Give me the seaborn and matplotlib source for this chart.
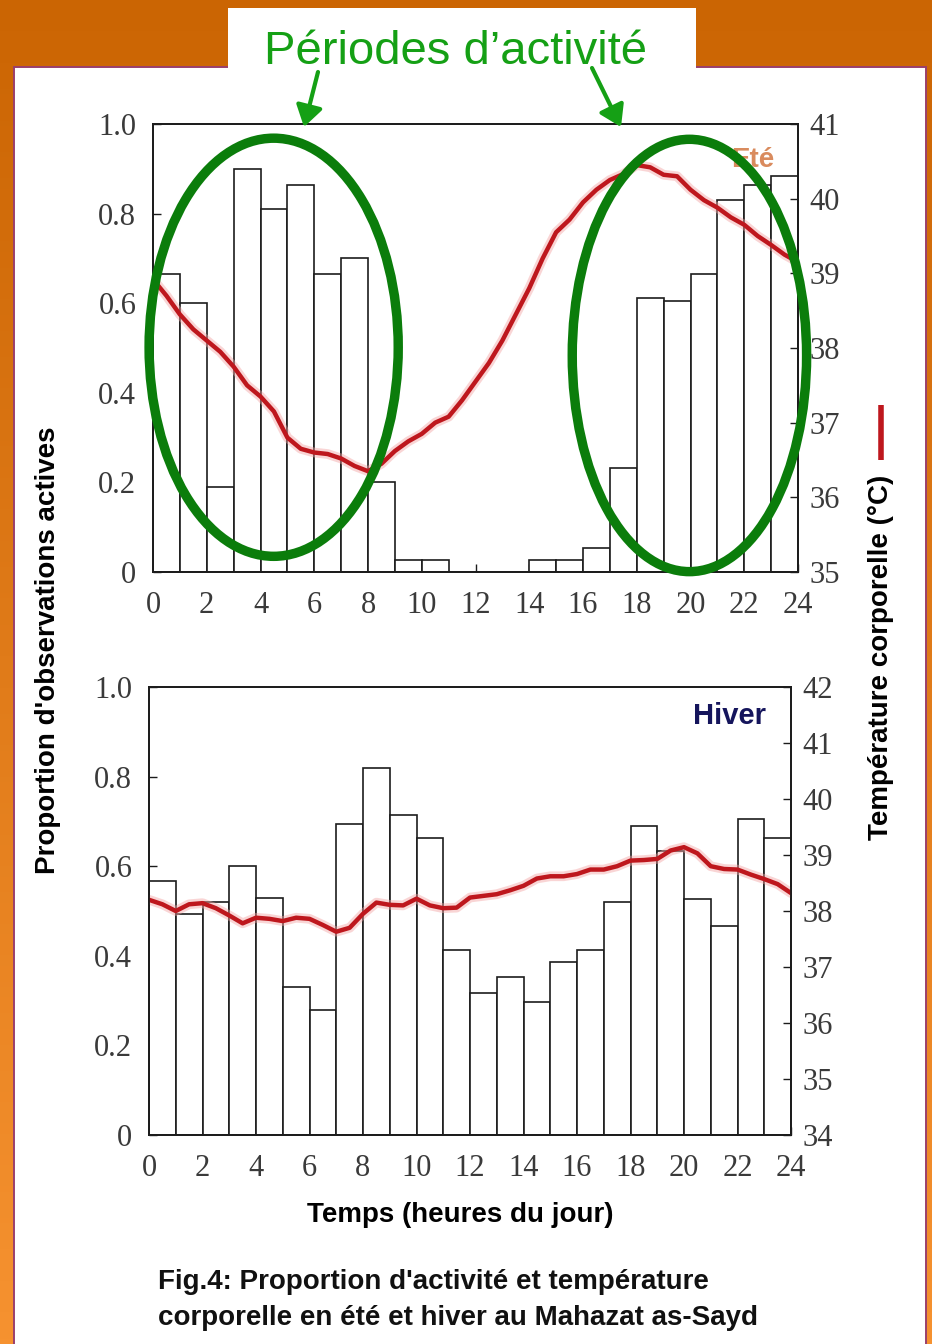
import numpy as np
import matplotlib
matplotlib.use("Agg")
import matplotlib.pyplot as plt
import seaborn as sns
from matplotlib.patches import Ellipse, Rectangle, FancyArrowPatch
from matplotlib.lines import Line2D
from matplotlib import font_manager as fm

# ---- data -------------------------------------------------------------
HOURS = list(range(24))  # start hour of each one-hour bin

ACT_ETE = [0.665, 0.601, 0.19, 0.90, 0.811, 0.863, 0.665, 0.70, 0.20, 0.026,
           0.026, 0.0, 0.0, 0.0, 0.026, 0.026, 0.053, 0.233, 0.611, 0.606,
           0.665, 0.831, 0.863, 0.884]
ACT_HIVER = [0.568, 0.494, 0.52, 0.60, 0.53, 0.33, 0.28, 0.695, 0.82, 0.715,
             0.662, 0.414, 0.318, 0.352, 0.297, 0.387, 0.414, 0.52, 0.69, 0.635,
             0.526, 0.467, 0.705, 0.663]

T_HOURS = np.arange(0, 24.5, 0.5)
TEMP_ETE = [38.92, 38.70, 38.45, 38.25, 38.10, 37.95, 37.75, 37.50, 37.35, 37.15,
            36.80, 36.65, 36.60, 36.58, 36.52, 36.42, 36.35, 36.45, 36.62, 36.75,
            36.85, 37.00, 37.08, 37.30, 37.55, 37.80, 38.10, 38.45, 38.80, 39.20,
            39.55, 39.72, 39.95, 40.12, 40.25, 40.33, 40.45, 40.42, 40.32, 40.30,
            40.12, 39.98, 39.88, 39.75, 39.65, 39.50, 39.38, 39.25, 39.15]
TEMP_HIVER = [38.20, 38.12, 38.00, 38.12, 38.14, 38.05, 37.92, 37.78, 37.88, 37.86,
              37.82, 37.88, 37.86, 37.75, 37.63, 37.70, 37.95, 38.15, 38.11, 38.10,
              38.22, 38.10, 38.05, 38.06, 38.24, 38.27, 38.30, 38.37, 38.45, 38.58,
              38.62, 38.62, 38.66, 38.74, 38.74, 38.80, 38.90, 38.91, 38.93, 39.08,
              39.14, 39.03, 38.80, 38.75, 38.74, 38.65, 38.57, 38.48, 38.32]

X_TICKS = list(range(0, 25, 2))
Y_TICKS = [0, 0.2, 0.4, 0.6, 0.8, 1.0]
Y_TICK_LABELS = ["0", "0.2", "0.4", "0.6", "0.8", "1.0"]
T_TICKS_ETE = [35, 36, 37, 38, 39, 40, 41]
T_TICKS_HIVER = [34, 35, 36, 37, 38, 39, 40, 41, 42]

TITLE = "Périodes d’activité"
YLABEL_LEFT = "Proportion d'observations actives"
YLABEL_RIGHT = "Température corporelle (°C)"
XLABEL = "Temps (heures du jour)"
CAPTION = ("Fig.4: Proportion d'activité et température\n"
           "corporelle en été et hiver au Mahazat as-Sayd")

# ---- style ------------------------------------------------------------
W, H = 932, 1344
RED = "#BE171D"
HALO = "#F3A3A3"
GREEN_TXT = "#15A015"
GREEN_RING = "#0B7D0B"
EDGE = "#1c1c1c"
TICK_COL = "#3a3a3a"

sns.set_theme(style="white")
plt.rcParams["font.family"] = ["Liberation Serif", "DejaVu Serif"]


def has_font(name):
    try:
        fm.findfont(fm.FontProperties(family=name), fallback_to_default=False)
        return True
    except ValueError:
        return False


NARROW = has_font("Liberation Sans Narrow")
BOLD_FAM = ["Liberation Sans Narrow", "Liberation Sans"] if NARROW else ["Liberation Sans"]
CAPTION_SIZE = 24 if NARROW else 20
LABEL_SIZE = 24 if NARROW else 20


def fx(px):
    return px / W


def fy(py):
    return 1 - py / H


fig = plt.figure(figsize=(W / 100, H / 100), dpi=100)

# background: orange gradient, white panel and title tab
bg = fig.add_axes([0, 0, 1, 1], zorder=-10)
grad = np.linspace(0, 1, 256)[:, None, None]
top_c = np.array([203, 101, 3]) / 255
bot_c = np.array([246, 146, 48]) / 255
img = top_c * (1 - grad) + bot_c * grad
bg.imshow(img, aspect="auto", extent=[0, 1, 0, 1], origin="upper")
bg.add_patch(Rectangle((fx(14), -0.01), fx(926) - fx(14), fy(67) + 0.01,
                       facecolor="white", edgecolor="#9A3F6C", linewidth=1.4))
bg.add_patch(Rectangle((fx(228), fy(67) - 0.001), fx(696) - fx(228), fy(8) - fy(67) + 0.001,
                       facecolor="white", edgecolor="none"))
bg.set_xlim(0, 1)
bg.set_ylim(0, 1)
bg.axis("off")


def draw_panel(rect, act, temps, tlim, tticks, xpad):
    ax = fig.add_axes(rect)
    ax.set_facecolor("none")
    sns.histplot(x=HOURS, weights=act, bins=24, binrange=(0, 24), ax=ax,
                 color="white", edgecolor=EDGE, linewidth=1.2, alpha=1.0)
    ax.set_xlim(0, 24)
    ax.set_ylim(0, 1)
    ax.set_xticks(X_TICKS)
    ax.set_yticks(Y_TICKS)
    ax.set_yticklabels(Y_TICK_LABELS)
    ax.set_xlabel("")
    ax.set_ylabel("")
    ax.tick_params(axis="both", direction="in", length=6, width=1.0,
                   color=EDGE, labelsize=22, labelcolor=TICK_COL,
                   bottom=True, left=True, top=False, right=False)
    ax.tick_params(axis="y", pad=12)
    ax.tick_params(axis="x", pad=xpad)

    ax2 = ax.twinx()
    sns.lineplot(x=T_HOURS, y=temps, ax=ax2, color=HALO, linewidth=7, alpha=0.45)
    sns.lineplot(x=T_HOURS, y=temps, ax=ax2, color=RED, linewidth=3.2)
    ax2.set_ylim(*tlim)
    ax2.set_yticks(tticks)
    ax2.set_ylabel("")
    ax2.tick_params(axis="y", direction="in", length=6, width=1.0, color=EDGE,
                    labelsize=22, labelcolor=TICK_COL, pad=8)
    for a in (ax, ax2):
        for s in a.spines.values():
            s.set_visible(True)
            s.set_color(EDGE)
            s.set_linewidth(1.3)
    return ax, ax2


top_rect = [fx(153), fy(572), fx(798) - fx(153), fy(124) - fy(572)]
bot_rect = [fx(149), fy(1135), fx(791) - fx(149), fy(687) - fy(1135)]

ax_t, ax_t2 = draw_panel(top_rect, ACT_ETE, TEMP_ETE, (35, 41), T_TICKS_ETE, 14)
ax_b, ax_b2 = draw_panel(bot_rect, ACT_HIVER, TEMP_HIVER, (34, 42), T_TICKS_HIVER, 14)

# season names
ax_t2.text(0.964, 0.905, "Eté", transform=ax_t2.transAxes, ha="right", va="baseline",
           fontsize=20, fontweight="bold", color="#D98B5E", family=["Liberation Sans"], zorder=4)
ax_b2.text(0.961, 0.918, "Hiver", transform=ax_b2.transAxes, ha="right", va="baseline",
           fontsize=21, fontweight="bold", color="#15155C", family=["Liberation Sans"], zorder=4)

# rings around the active periods
for cx, cy, w, h in [(4.49, 38.01, 9.27, 5.6), (19.96, 37.9, 8.72, 5.79)]:
    ax_t2.add_patch(Ellipse((cx, cy), w, h, facecolor="none", edgecolor=GREEN_RING,
                            linewidth=6.8, clip_on=False, zorder=6))
ax_t2.set_ylim(35, 41)

# title and arrows
fig.text(fx(455), fy(64), TITLE, ha="center", va="baseline", fontsize=34,
         color=GREEN_TXT, family=["Liberation Sans"])
for (x0, y0), (x1, y1) in [((318, 72), (304, 127)), ((592, 68), (621, 127))]:
    fig.add_artist(FancyArrowPatch((fx(x0), fy(y0)), (fx(x1), fy(y1)),
                                   transform=fig.transFigure,
                                   arrowstyle="-|>,head_length=0.7,head_width=0.45",
                                   mutation_scale=18, color=GREEN_TXT, linewidth=3,
                                   shrinkA=0, shrinkB=0))

# axis labels
fig.text(fx(48), fy(650), YLABEL_LEFT, rotation=90, ha="center", va="center",
         fontsize=LABEL_SIZE, fontweight="bold", color="black", family=BOLD_FAM)
fig.text(fx(881), fy(657), YLABEL_RIGHT, rotation=90, ha="center", va="center",
         fontsize=LABEL_SIZE, fontweight="bold", color="black", family=BOLD_FAM)
fig.add_artist(Line2D([fx(881), fx(881)], [fy(405), fy(460)], transform=fig.transFigure,
                      color=RED, linewidth=4, solid_capstyle="butt"))
fig.text(fx(460), fy(1215), XLABEL, ha="center", va="center",
         fontsize=LABEL_SIZE, fontweight="bold", color="black", family=BOLD_FAM)

# caption
fig.text(fx(158), fy(1289), CAPTION.split("\n")[0], ha="left", va="baseline",
         fontsize=CAPTION_SIZE, fontweight="bold", color="#111111", family=BOLD_FAM)
fig.text(fx(158), fy(1325), CAPTION.split("\n")[1], ha="left", va="baseline",
         fontsize=CAPTION_SIZE, fontweight="bold", color="#111111", family=BOLD_FAM)

fig.savefig("out.png", dpi=100)
